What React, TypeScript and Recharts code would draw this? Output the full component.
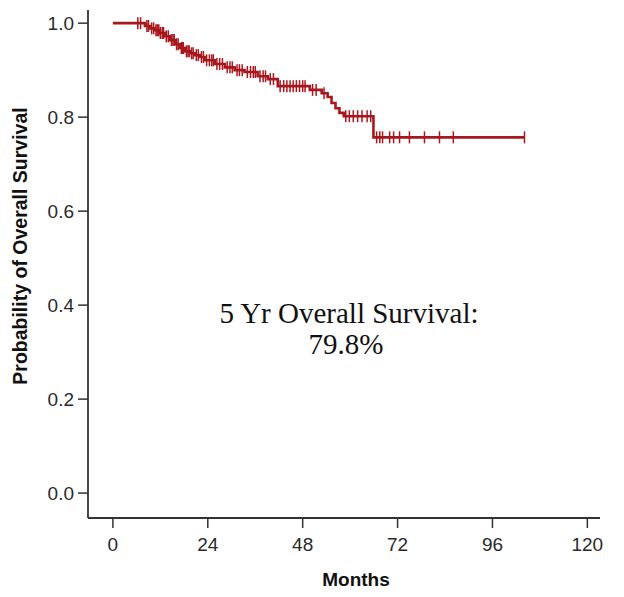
import React from 'react';
import { ComposedChart, Line, XAxis, YAxis } from 'recharts';

// Kaplan–Meier step drops (month, survival after the drop)
const eventMonths = [0, 8.1, 9.3, 10.6, 11.9, 13.1, 14.4, 15.7, 16.9, 18.2, 19.5, 20.7, 22.0, 23.2, 25.8, 28.3, 30.8, 33.3, 36.6, 39.2, 41.7, 49.8, 52.8, 54.3, 55.3, 56.3, 57.3, 58.4, 65.9];
const eventSurvival = [1.0, 0.994, 0.989, 0.985, 0.979, 0.972, 0.964, 0.955, 0.947, 0.94, 0.936, 0.932, 0.928, 0.921, 0.913, 0.906, 0.9, 0.896, 0.887, 0.881, 0.866, 0.858, 0.851, 0.843, 0.83, 0.819, 0.809, 0.802, 0.757];

// censored observations (months)
const censorMonths = [6.3, 7.0, 8.6, 9.0, 9.8, 10.3, 10.9, 11.2, 11.6, 12.0, 12.5, 12.8, 13.5, 14.0, 14.8, 15.2, 15.5, 16.1, 16.5, 17.3, 17.6, 17.8, 18.6, 19.0, 19.3, 19.9, 20.3, 21.1, 21.6, 22.4, 22.9, 23.7, 24.4, 25.0, 25.4, 26.3, 27.0, 27.7, 28.9, 29.6, 30.2, 31.4, 32.0, 32.7, 34.0, 34.8, 35.5, 36.0, 37.2, 38.0, 38.6, 39.8, 40.6, 42.3, 43.2, 44.0, 44.8, 45.6, 46.4, 47.2, 48.0, 48.6, 50.5, 51.4, 53.4, 58.9, 59.8, 60.8, 61.9, 63.0, 64.3, 65.2, 66.7, 67.5, 68.2, 70.0, 71.0, 72.5, 75.0, 78.8, 82.6, 86.1, 104.1];

const xTicks = [0, 24, 48, 72, 96, 120];
const yTicks = [0, 0.2, 0.4, 0.6, 0.8, 1.0];

const annotationLines = ['5 Yr Overall Survival:', '79.8%'];

function survivalAt(t: number) {
  let s = 1;
  for (let i = 0; i < eventMonths.length; i++) {
    if (eventMonths[i] <= t) s = eventSurvival[i];
  }
  return s;
}

const rows = [
  ...eventMonths.map((m, i) => ({ month: m, surv: eventSurvival[i], censored: false })),
  ...censorMonths.map((m) => ({ month: m, surv: survivalAt(m), censored: true })),
].sort((a, b) => a.month - b.month);

const RED = '#a8171d';
const AXIS = '#333333';
const SANS = 'Liberation Sans, Arial, sans-serif';
const SERIF = 'Liberation Serif, Times New Roman, serif';

const CensorDot = (p: any) => {
  const { cx, cy, payload, index } = p;
  if (!payload || !payload.censored || cx == null || cy == null) return <g key={`d${index}`} />;
  return (
    <line key={`d${index}`} x1={cx} x2={cx} y1={cy - 6} y2={cy + 6} stroke={RED} strokeWidth={1.5} />
  );
};

export default function App() {
  return (
    <div style={{ position: 'absolute', left: 0, top: 0, background: '#fff' }}>
      <ComposedChart
        width={624}
        height={597}
        data={rows}
        margin={{ top: 10, right: 24, bottom: 9, left: 28 }}
      >
        <XAxis
          type="number"
          dataKey="month"
          domain={[-6.3, 123.2]}
          ticks={xTicks}
          allowDataOverflow
          height={70}
          tickSize={10}
          tickMargin={10}
          axisLine={{ stroke: AXIS, strokeWidth: 1.8 }}
          tickLine={{ stroke: AXIS, strokeWidth: 1.5 }}
          tick={{ fill: '#2a2a2a', fontSize: 19, fontFamily: SANS }}
        />
        <YAxis
          type="number"
          domain={[-0.053, 1.028]}
          ticks={yTicks}
          allowDataOverflow
          width={60}
          tickSize={10}
          tickMargin={4}
          tickFormatter={(v: number) => v.toFixed(1)}
          axisLine={{ stroke: AXIS, strokeWidth: 1.8 }}
          tickLine={{ stroke: AXIS, strokeWidth: 1.5 }}
          tick={{ fill: '#2a2a2a', fontSize: 19, fontFamily: SANS }}
        />
        <Line
          type="stepAfter"
          dataKey="surv"
          stroke={RED}
          strokeWidth={2.6}
          dot={CensorDot}
          activeDot={false}
          isAnimationActive={false}
        />
        <text x={356} y={586} textAnchor="middle" fontFamily={SANS} fontWeight="bold" fontSize={19} fill="#111">
          Months
        </text>
        <text
          x={27}
          y={246}
          transform="rotate(-90 27 246)"
          textAnchor="middle"
          fontFamily={SANS}
          fontWeight="bold"
          fontSize={19.5}
          fill="#111"
        >
          Probability of Overall Survival
        </text>
        <text x={349} y={323} textAnchor="middle" fontFamily={SERIF} fontSize={29} fill="#111">
          {annotationLines[0]}
        </text>
        <text x={346} y={354} textAnchor="middle" fontFamily={SERIF} fontSize={29} fill="#111">
          {annotationLines[1]}
        </text>
      </ComposedChart>
    </div>
  );
}
